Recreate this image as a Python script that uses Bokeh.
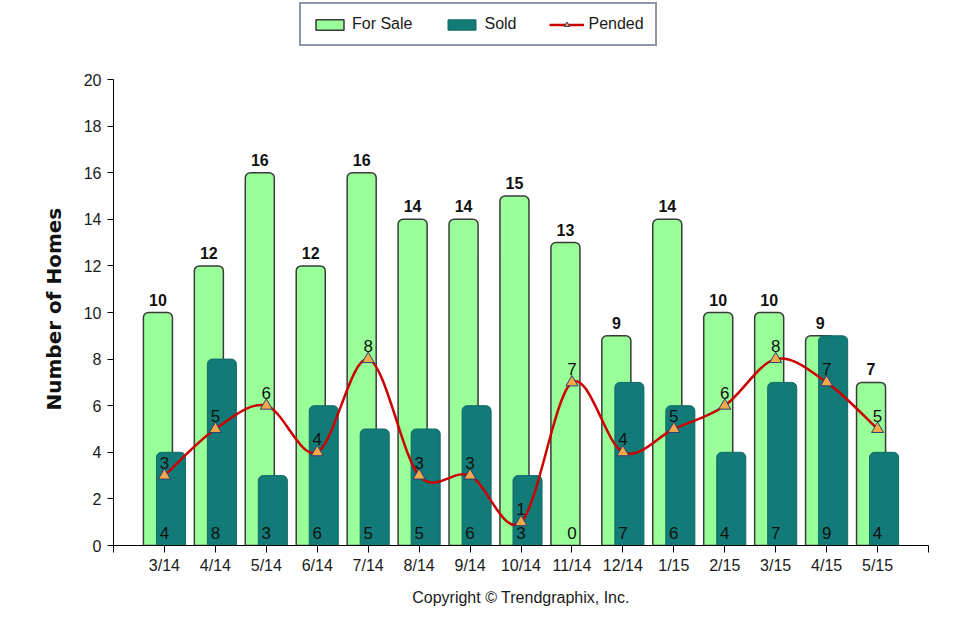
from bokeh.plotting import figure
from bokeh.models import ColumnDataSource, Legend, LegendItem, FixedTicker, Range1d, Title
from bokeh.core.properties import value
from bokeh.embed import file_html
from bokeh.resources import INLINE

months = ["3/14", "4/14", "5/14", "6/14", "7/14", "8/14", "9/14", "10/14",
          "11/14", "12/14", "1/15", "2/15", "3/15", "4/15", "5/15"]
for_sale = [10, 12, 16, 12, 16, 14, 14, 15, 13, 9, 14, 10, 10, 9, 7]
sold = [4, 8, 3, 6, 5, 5, 6, 3, 0, 7, 6, 4, 7, 9, 4]
pended = [3, 5, 6, 4, 8, 3, 3, 1, 7, 4, 5, 6, 8, 7, 5]
y_ticks = list(range(0, 21, 2))
y_max = 20
labels = ["For Sale", "Sold", "Pended"]

n = len(months)
xs = list(range(n))
OFF = 0.128
BW = 0.57

FONT = "Liberation Sans"

# frame spans the full top of the figure so that the legend can sit inside it;
# the axis itself is bounded to 0..20 (20 lands 79px below the top)
FRAME_H = 545
AXIS_H = 466
p = figure(width=964, height=612, output_backend="svg", toolbar_location=None,
           x_range=Range1d(-1, n), y_range=Range1d(0, y_max * FRAME_H / AXIS_H),
           min_border_left=113, min_border_right=36,
           min_border_top=0, min_border_bottom=612 - FRAME_H)
p.outline_line_color = None
p.xgrid.visible = False
p.ygrid.visible = False
p.background_fill_color = "white"
p.border_fill_color = "white"

src = ColumnDataSource(dict(
    x=xs,
    xf=[v - OFF for v in xs],
    xs_=[v + OFF for v in xs],
    fs=for_sale, sd=sold, pd=pended,
    fs_t=[str(v) for v in for_sale],
    sd_t=[str(v) for v in sold],
    pd_t=[str(v) for v in pended],
    zero=[0] * n,
))

fs_r = p.vbar(x="xf", top="fs", bottom=0, width=BW, source=src,
              fill_color="#99FF99", line_color="#3A3A3A", line_width=1.5,
              border_radius=(5, 5, 0, 0))
sd_r = p.vbar(x="xs_", top="sd", bottom=0, width=BW, source=src,
              fill_color="#127B78", line_color="#0E6A67", line_width=1,
              border_radius=(5, 5, 0, 0))

# Catmull-Rom spline through the Pended values, drawn as Bezier segments
x0, y0, x1, y1, cx0, cy0, cx1, cy1 = [], [], [], [], [], [], [], []
for i in range(n - 1):
    pa = (xs[max(i - 1, 0)], pended[max(i - 1, 0)])
    pb = (xs[i], pended[i])
    pc = (xs[i + 1], pended[i + 1])
    pdd = (xs[min(i + 2, n - 1)], pended[min(i + 2, n - 1)])
    x0.append(pb[0]); y0.append(pb[1])
    x1.append(pc[0]); y1.append(pc[1])
    cx0.append(pb[0] + (pc[0] - pa[0]) / 6.0)
    cy0.append(pb[1] + (pc[1] - pa[1]) / 6.0)
    cx1.append(pc[0] - (pdd[0] - pb[0]) / 6.0)
    cy1.append(pc[1] - (pdd[1] - pb[1]) / 6.0)
bz = ColumnDataSource(dict(x0=x0, y0=y0, x1=x1, y1=y1, cx0=cx0, cy0=cy0, cx1=cx1, cy1=cy1))
ln_r = p.bezier(x0="x0", y0="y0", x1="x1", y1="y1", cx0="cx0", cy0="cy0",
                cx1="cx1", cy1="cy1", source=bz, line_color="#CC0000", line_width=2.5)
mk_r = p.scatter(x="x", y="pd", source=src, marker="triangle", size=12,
                 fill_color="#F4A84A", line_color="#2F3F6F", line_width=1)

p.text(x="xf", y="fs", text="fs_t", source=src, text_align="center",
       text_baseline="bottom", y_offset=-7, text_font=value(FONT),
       text_font_size="16px", text_font_style="bold", text_color="#111111")
p.text(x="x", y="zero", text="sd_t", source=src, text_align="center",
       text_baseline="bottom", y_offset=-7, text_font=value(FONT),
       text_font_size="17px", text_color="#111111")
p.text(x="x", y="pd", text="pd_t", source=src, text_align="center",
       text_baseline="bottom", y_offset=-7, text_font=value(FONT),
       text_font_size="17px", text_color="#111111")

# axes
p.xaxis.ticker = FixedTicker(ticks=[-1] + xs + [n])
ov = {i: m for i, m in enumerate(months)}
ov[-1] = ""
ov[n] = ""
p.xaxis.major_label_overrides = ov
p.xaxis.minor_tick_line_color = None
p.xaxis.major_tick_in = 0
p.xaxis.major_tick_out = 7
p.xaxis.major_label_standoff = 4
p.xaxis.major_label_text_font = FONT
p.xaxis.major_label_text_font_size = "16px"
p.xaxis.major_label_text_color = "#1a1a1a"
p.xaxis.axis_line_color = "black"
p.xaxis.major_tick_line_color = "black"
p.xaxis.axis_label = "Copyright \u00a9 Trendgraphix, Inc."
p.xaxis.axis_label_text_font = FONT
p.xaxis.axis_label_text_font_size = "16px"
p.xaxis.axis_label_text_font_style = "normal"
p.xaxis.axis_label_text_color = "#1a1a1a"
p.xaxis.axis_label_standoff = 12

p.yaxis.ticker = FixedTicker(ticks=y_ticks)
p.yaxis.bounds = (0, y_max)
p.yaxis.minor_tick_line_color = None
p.yaxis.major_tick_in = 0
p.yaxis.major_tick_out = 6
p.yaxis.major_label_standoff = 6
p.yaxis.major_label_text_font = FONT
p.yaxis.major_label_text_font_size = "16px"
p.yaxis.major_label_text_color = "#1a1a1a"
p.yaxis.axis_line_color = "black"
p.yaxis.major_tick_line_color = "black"

ytitle = Title(text="Number of Homes", align="left", offset=135, standoff=30,
               text_font="DejaVu Sans", text_font_size="20px",
               text_font_style="bold", text_color="#111111")
p.add_layout(ytitle, "left")

legend = Legend(items=[
    LegendItem(label=labels[0], renderers=[fs_r]),
    LegendItem(label=labels[1], renderers=[sd_r]),
    LegendItem(label=labels[2], renderers=[ln_r, mk_r]),
], location=(186, FRAME_H - 46), orientation="horizontal",
    glyph_width=35, glyph_height=13, label_standoff=5, spacing=32,
    padding=11, margin=0,
    label_text_font=FONT, label_text_font_size="16px", label_text_color="#1a1a1a",
    border_line_color="#1B2C5C", border_line_width=2,
    background_fill_color="white", background_fill_alpha=1.0)
p.add_layout(legend)

open("out.html", "w").write(file_html(p, INLINE))
